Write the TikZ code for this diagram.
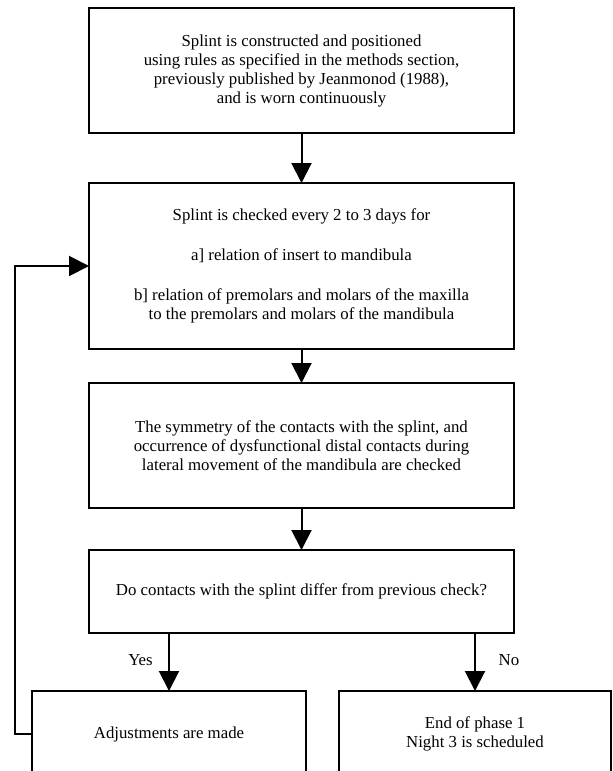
\documentclass[tikz,border=0pt]{standalone}
\usepackage{fontspec}
\setmainfont{Liberation Serif}
\usetikzlibrary{arrows.meta}
\begin{document}
\begin{tikzpicture}[x=1pt,y=-1pt,
  every node/.style={font=\fontsize{16.8pt}{19pt}\selectfont, inner sep=0pt, outer sep=0pt},
  box/.style={draw, line width=1.3pt, align=center, fill=white},
  arr/.style={line width=2pt, -{Triangle[length=20pt,width=20pt]}},
  lbl/.style={anchor=center}]
\useasboundingbox (0,0) rectangle (613,771);
\clip (0,0) rectangle (613,771);
\fill[white] (0,0) rectangle (613,771);

\node[box, minimum width=425pt, minimum height=125pt] (b1) at (301.5,70.5)
  {Splint is constructed and positioned\\
   using rules as specified in the methods section,\\
   previously published by Jeanmonod (1988),\\
   and is worn continuously};

\node[box, minimum width=425pt, minimum height=166pt] (b2) at (301.5,266)
  {Splint is checked every 2 to 3 days for\\[21pt]
   a] relation of insert to mandibula\\[21pt]
   b] relation of premolars and molars of the maxilla\\
   to the premolars and molars of the mandibula};

\node[box, minimum width=425pt, minimum height=125pt] (b3) at (301.5,445.5)
  {The symmetry of the contacts with the splint, and\\
   occurrence of dysfunctional distal contacts during\\
   lateral movement of the mandibula are checked};

\node[box, minimum width=425pt, minimum height=83pt] (b4) at (301.5,591.5)
  {Do contacts with the splint differ from previous check?};

\node[box, minimum width=274pt, minimum height=86pt] (b5) at (169,734)
  {Adjustments are made};

\node[box, minimum width=272pt, minimum height=86pt] (b6) at (475,734)
  {End of phase 1\\ Night 3 is scheduled};

\draw[arr] (b1.south) -- (b2.north);
\draw[arr] (b2.south) -- (b3.north);
\draw[arr] (b3.south) -- (b4.north);
\draw[arr] (b4.south -| b5.north) -- (b5.north);
\draw[arr] (b4.south -| b6.north) -- (b6.north);
\draw[arr] (b5.west) -- ++(-17,0) |- (b2.west);

\node[lbl] (yes) at (140.5,660) {Yes};
\node[lbl] (no) at (509,660) {No};
\end{tikzpicture}
\end{document}
